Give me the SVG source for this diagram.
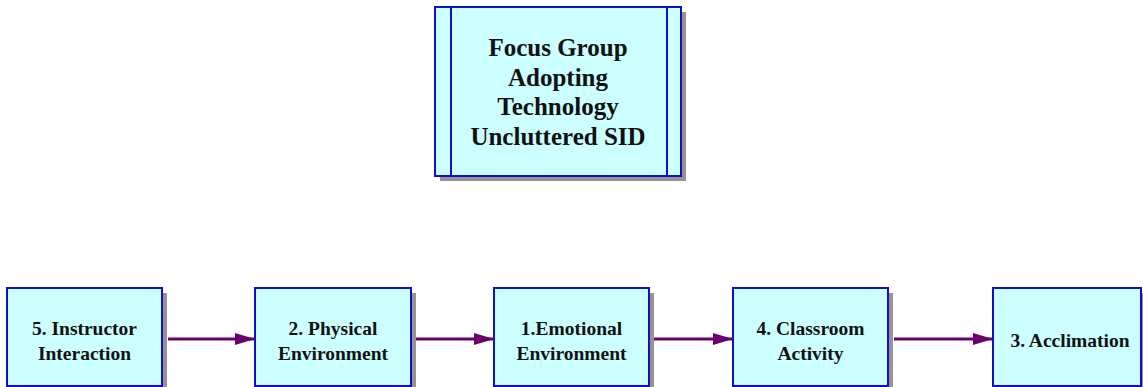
<svg xmlns="http://www.w3.org/2000/svg" width="1143" height="387" viewBox="0 0 1143 387">
  <defs>
    <marker id="arrowhead" markerWidth="20" markerHeight="12" refX="20" refY="6" orient="auto" markerUnits="userSpaceOnUse">
      <path d="M0,0 L20,6 L0,12 z" fill="#6a0070"/>
    </marker>
  </defs>
  <style>
    .shadow { fill: #9a9292; }
    .box { fill: #ccffff; stroke: #1010cc; stroke-width: 2; }
    .rule { stroke: #1010cc; stroke-width: 2; }
    .label { font-family: "Liberation Serif", "Times New Roman", serif; font-weight: bold; fill: #111111; text-anchor: middle; }
    .title { font-size: 25px; }
    .step { font-size: 19.5px; }
    .link { stroke: #6a0070; stroke-width: 3; fill: none; marker-end: url(#arrowhead); }
  </style>

  <rect width="1143" height="387" fill="#ffffff"/>

  <!-- heading block with side bars -->
  <g id="focus-group">
    <rect class="shadow" x="440" y="12" width="246" height="169"/>
    <rect class="box" x="435" y="7" width="246" height="169"/>
    <line class="rule" x1="451" y1="7" x2="451" y2="176"/>
    <line class="rule" x1="667" y1="7" x2="667" y2="176"/>
    <text class="label title" x="558" y="56">Focus Group</text>
    <text class="label title" x="558" y="85.5">Adopting</text>
    <text class="label title" x="558" y="115">Technology</text>
    <text class="label title" x="558" y="144.5">Uncluttered SID</text>
  </g>

  <!-- process steps -->
  <g id="instructor-interaction">
    <rect class="shadow" x="12" y="293" width="155" height="98"/>
    <rect class="box" x="7" y="288" width="155" height="98"/>
    <text class="label step" x="84.5" y="335">5. Instructor</text>
    <text class="label step" x="84.5" y="360">Interaction</text>
  </g>

  <g id="physical-environment">
    <rect class="shadow" x="260" y="293" width="156" height="98"/>
    <rect class="box" x="255" y="288" width="156" height="98"/>
    <text class="label step" x="333" y="335">2. Physical</text>
    <text class="label step" x="333" y="360">Environment</text>
  </g>

  <g id="emotional-environment">
    <rect class="shadow" x="499" y="293" width="155" height="98"/>
    <rect class="box" x="494" y="288" width="155" height="98"/>
    <text class="label step" x="571.5" y="335">1.Emotional</text>
    <text class="label step" x="571.5" y="360">Environment</text>
  </g>

  <g id="classroom-activity">
    <rect class="shadow" x="738" y="293" width="155" height="98"/>
    <rect class="box" x="733" y="288" width="155" height="98"/>
    <text class="label step" x="810.5" y="335">4. Classroom</text>
    <text class="label step" x="810.5" y="360">Activity</text>
  </g>

  <g id="acclimation">
    <rect class="shadow" x="998" y="293" width="148" height="98"/>
    <rect class="box" x="993" y="288" width="148" height="98"/>
    <text class="label step" x="1070" y="347">3. Acclimation</text>
  </g>

  <!-- connectors between steps -->
  <g id="connectors">
    <line class="link" x1="168" y1="339" x2="255" y2="339"/>
    <line class="link" x1="416" y1="339" x2="494" y2="339"/>
    <line class="link" x1="654" y1="339" x2="733" y2="339"/>
    <line class="link" x1="894" y1="339" x2="993" y2="339"/>
  </g>
</svg>
